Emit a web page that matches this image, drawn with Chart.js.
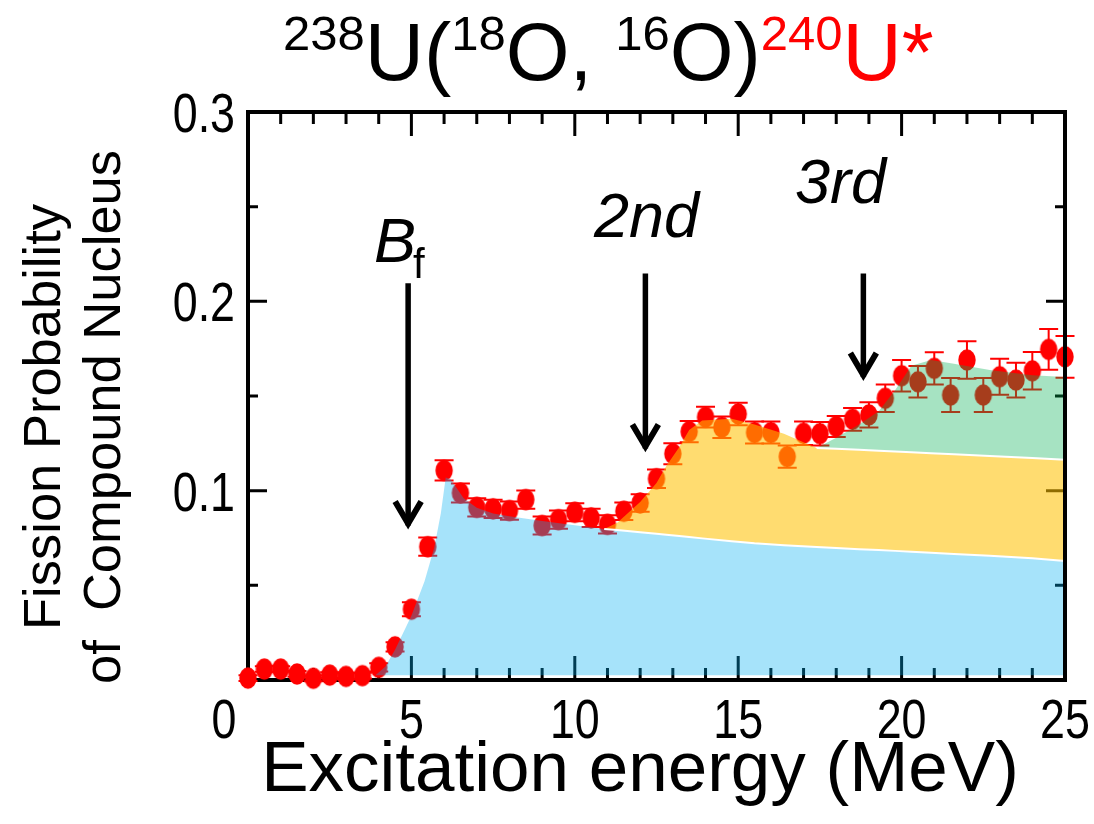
<!DOCTYPE html>
<html>
<head>
<meta charset="utf-8">
<script src="https://cdn.jsdelivr.net/npm/chart.js@4.4.1/dist/chart.umd.min.js"></script>
<style>
html,body{margin:0;padding:0;background:#ffffff;}
#wrap{width:1094px;height:824px;position:relative;}
</style>
</head>
<body>
<div id="wrap"><canvas id="c"></canvas></div>
<script>
// ---------------- data ----------------
const energy = [0,0.5,1,1.5,2,2.5,3,3.5,4,4.5,5,5.5,6,6.5,7,7.5,8,8.5,9,9.5,10,10.5,11,11.5,12,12.5,13,13.5,14,14.5,15,15.5,16,16.5,17,17.5,18,18.5,19,19.5,20,20.5,21,21.5,22,22.5,23,23.5,24,24.5,25];
const fissionProb = [0.001,0.0058,0.0058,0.0032,0.0009,0.0026,0.0019,0.0023,0.0067,0.0175,0.0374,0.0704,0.1107,0.0988,0.0912,0.0904,0.0895,0.0953,0.0816,0.0847,0.0886,0.0856,0.0822,0.0891,0.0935,0.1063,0.1195,0.1312,0.1388,0.1335,0.1405,0.1307,0.1307,0.118,0.1303,0.1301,0.1339,0.1377,0.140,0.1488,0.1607,0.1575,0.1646,0.1505,0.169,0.1505,0.1602,0.1584,0.1633,0.1746,0.1707];
const fissionErr = [0.0015,0.0015,0.0015,0.0015,0.0015,0.0015,0.0015,0.0015,0.0022,0.0025,0.0037,0.0048,0.0053,0.005,0.0048,0.0048,0.0048,0.0048,0.0048,0.0048,0.0048,0.0048,0.0048,0.0046,0.0046,0.0049,0.0055,0.0056,0.0055,0.0057,0.006,0.0058,0.0058,0.0059,0.0062,0.0062,0.0055,0.006,0.0067,0.0073,0.0083,0.0083,0.0085,0.009,0.0099,0.009,0.0095,0.0092,0.0099,0.0108,0.011];

// shaded contributions (1st, 2nd, 3rd chance fission)
const bandX     = [3.9,4.2,4.5,5.0,5.4,5.7,5.9,6.05,6.2,6.6,7.0,7.5,8.0,9.0,10.0,10.9,11.3,12.0,12.5,12.8,13.2,13.5,13.9,14.8,15.5,16.4,17.4,18.0,18.7,19.3,19.8,20.3,20.9,21.6,22.7,24.0,25.0];
const blueTop   = [0.0025,0.007,0.016,0.034,0.052,0.070,0.088,0.107,0.106,0.096,0.091,0.088,0.0865,0.084,0.0818,0.0798,0.0792,0.078,0.0772,0.0767,0.076,0.0755,0.0748,0.0733,0.0722,0.0712,0.0702,0.0697,0.0691,0.0686,0.0682,0.0677,0.0672,0.0666,0.0656,0.0643,0.0628];
const orangeTop = [0.0025,0.007,0.016,0.034,0.052,0.070,0.088,0.107,0.106,0.096,0.091,0.088,0.0865,0.084,0.0818,0.0798,0.083,0.094,0.104,0.113,0.123,0.132,0.137,0.138,0.135,0.130,0.1225,0.1222,0.1216,0.1211,0.1207,0.1203,0.1198,0.1192,0.1183,0.1172,0.1163];
const greenTop  = [0.0025,0.007,0.016,0.034,0.052,0.070,0.088,0.107,0.106,0.096,0.091,0.088,0.0865,0.084,0.0818,0.0798,0.083,0.094,0.104,0.113,0.123,0.132,0.137,0.138,0.135,0.130,0.1225,0.128,0.135,0.142,0.153,0.166,0.169,0.167,0.1637,0.161,0.160];

const xTickValues = [0,5,10,15,20,25];
const yTickValues = [0.1,0.2,0.3];

// annotation arrows (in data units)
const arrowX   = [4.9, 12.16, 18.83];
const arrowTop = [0.2095, 0.2147, 0.2147];
const arrowTip = [0.080, 0.1207, 0.1584];

// ---------------- styles ----------------
const FONT = '"Liberation Sans", Arial, Helvetica, sans-serif';
const RED = '#ff0000';

function ellipseMarker() {
  const c = document.createElement('canvas');
  c.width = 20; c.height = 24;
  const g = c.getContext('2d');
  g.fillStyle = RED;
  g.beginPath();
  g.ellipse(10, 12, 8.7, 10.7, 0, 0, Math.PI * 2);
  g.fill();
  return c;
}

const band = (arr) => bandX.map((x, i) => ({x: x, y: arr[i]}));
const bandFrom = (arr, x0) => bandX.map((x, i) => ({x: x, y: arr[i]})).filter(p => p.x >= x0);

// ---------------- plugins ----------------
const errorBars = {
  id: 'errorBars',
  beforeDatasetDraw(chart, args) {
    if (args.index !== 0) return;
    const {ctx, scales: {x, y}} = chart;
    ctx.save();
    ctx.strokeStyle = RED;
    ctx.lineWidth = 2;
    energy.forEach((e, i) => {
      const px = x.getPixelForValue(e);
      const hi = y.getPixelForValue(fissionProb[i] + fissionErr[i]);
      const lo = y.getPixelForValue(fissionProb[i] - fissionErr[i]);
      ctx.beginPath();
      ctx.moveTo(px, hi); ctx.lineTo(px, lo);
      ctx.moveTo(px - 9.5, hi); ctx.lineTo(px + 9.5, hi);
      ctx.moveTo(px - 9.5, lo); ctx.lineTo(px + 9.5, lo);
      ctx.stroke();
    });
    ctx.restore();
  }
};

function tickSet(scale, from, to, step) {
  const out = [];
  for (let k = 0; from + k * step <= to + 1e-9; k++) out.push(from + k * step);
  return out;
}

const frame = {
  id: 'frame',
  beforeDatasetsDraw(chart) {
    const {ctx, chartArea: a, scales: {x, y}} = chart;
    ctx.save();
    ctx.strokeStyle = '#000';
    ctx.lineWidth = 3;
    ctx.beginPath();
    tickSet(x, 1, 24, 1).forEach(v => {
      const px = x.getPixelForValue(v);
      const len = (Math.round(v) % 5 === 0) ? 24 : 12;
      ctx.moveTo(px, a.bottom); ctx.lineTo(px, a.bottom - len);
      ctx.moveTo(px, a.top); ctx.lineTo(px, a.top + len);
    });
    tickSet(y, 0.05, 0.25, 0.05).forEach(v => {
      const py = y.getPixelForValue(v);
      const major = Math.abs(v * 10 - Math.round(v * 10)) < 1e-6;
      const len = major ? 19 : 10;
      ctx.moveTo(a.left, py); ctx.lineTo(a.left + len, py);
      ctx.moveTo(a.right, py); ctx.lineTo(a.right - len, py);
    });
    ctx.stroke();
    ctx.lineWidth = 4;
    ctx.strokeRect(a.left, a.top, a.right - a.left, a.bottom - a.top);
    ctx.restore();
  },
  afterDatasetsDraw(chart) {
    const {ctx, chartArea: a, scales: {x, y}} = chart;
    ctx.save();
    // right border on top
    ctx.strokeStyle = '#000';
    ctx.lineWidth = 4;
    ctx.beginPath();
    ctx.moveTo(a.right, a.top - 2); ctx.lineTo(a.right, a.bottom + 2);
    ctx.stroke();

    // arrows
    ctx.lineCap = 'butt';
    arrowX.forEach((v, i) => {
      const px = x.getPixelForValue(v);
      const top = y.getPixelForValue(arrowTop[i]);
      const tip = y.getPixelForValue(arrowTip[i]);
      ctx.lineWidth = 5.5;
      ctx.beginPath();
      ctx.moveTo(px, top); ctx.lineTo(px, tip - 3);
      ctx.stroke();
      ctx.lineWidth = 6;
      ctx.lineJoin = 'miter';
      ctx.beginPath();
      ctx.moveTo(px - 13, tip - 27); ctx.lineTo(px, tip - 5); ctx.lineTo(px + 13, tip - 27);
      ctx.stroke();
    });

    // arrow labels
    ctx.fillStyle = '#000';
    ctx.textAlign = 'left';
    ctx.textBaseline = 'alphabetic';
    ctx.font = 'italic 63px ' + FONT;
    ctx.fillText('B', 374, 262);
    ctx.font = '42px ' + FONT;
    ctx.fillText('f', 413, 278);
    ctx.font = 'italic 63px ' + FONT;
    ctx.fillText('2nd', 594, 237);
    ctx.fillText('3rd', 795, 203);

    // tick labels (condensed like the original)
    ctx.font = '56px ' + FONT;
    x.ticks.forEach(t => {
      const px = x.getPixelForValue(t.value) + (t.value === 0 ? -24 : 0);
      ctx.save();
      ctx.translate(px, 738);
      ctx.scale(0.8, 1);
      ctx.textAlign = 'center';
      ctx.fillText(String(t.value), 0, 0);
      ctx.restore();
    });
    y.ticks.forEach(t => {
      const py = y.getPixelForValue(t.value);
      ctx.save();
      ctx.translate(235, py + 20);
      ctx.scale(0.8, 1);
      ctx.textAlign = 'right';
      ctx.fillText(t.value.toFixed(1), 0, 0);
      ctx.restore();
    });

    // x title
    ctx.textAlign = 'center';
    ctx.font = '71px ' + FONT;
    ctx.fillText('Excitation energy (MeV)', 640, 791);

    // y title (two lines, rotated)
    ctx.font = '52.5px ' + FONT;
    ['Fission Probability', 'of  Compound Nucleus'].forEach((line, i) => {
      ctx.save();
      ctx.translate(i === 0 ? 60 : 120, 417);
      ctx.rotate(-Math.PI / 2);
      ctx.textAlign = 'center';
      ctx.fillText(line, 0, 0);
      ctx.restore();
    });

    // main title with superscripts
    const segs = [
      {t: '238', sup: true, c: '#000'}, {t: 'U(', c: '#000'},
      {t: '18', sup: true, c: '#000'}, {t: 'O, ', c: '#000'},
      {t: '16', sup: true, c: '#000'}, {t: 'O)', c: '#000'},
      {t: '240', sup: true, c: RED}, {t: 'U*', c: RED}
    ];
    let cx = 283;
    ctx.textAlign = 'left';
    segs.forEach(s => {
      ctx.font = (s.sup ? '49px ' : '82px ') + FONT;
      ctx.fillStyle = s.c;
      ctx.fillText(s.t, cx, s.sup ? 50 : 80);
      cx += ctx.measureText(s.t).width;
    });
    ctx.restore();
  }
};

// ---------------- chart ----------------
const ctxEl = document.getElementById('c');
new Chart(ctxEl, {
  data: {
    datasets: [
      {
        type: 'scatter',
        data: energy.map((e, i) => ({x: e, y: fissionProb[i]})),
        pointStyle: ellipseMarker(),
        pointRadius: 10,
        showLine: false,
        clip: false,
        order: 6
      },
      {
        type: 'line',
        data: band(blueTop),
        borderColor: 'rgba(0,0,0,0)',
        backgroundColor: 'rgba(0,176,240,0.35)',
        fill: {value: 0.0025},
        pointRadius: 0, tension: 0,
        order: 5
      },
      {
        type: 'line',
        data: band(orangeTop),
        borderColor: 'rgba(0,0,0,0)',
        backgroundColor: 'rgba(255,192,0,0.56)',
        fill: 1,
        pointRadius: 0, tension: 0,
        order: 4
      },
      {
        type: 'line',
        data: band(greenTop),
        borderColor: 'rgba(0,0,0,0)',
        backgroundColor: 'rgba(0,176,80,0.35)',
        fill: 2,
        pointRadius: 0, tension: 0,
        order: 3
      },
      {
        type: 'line',
        data: bandFrom(blueTop, 10.9),
        borderColor: '#ffffff', borderWidth: 2,
        fill: false, pointRadius: 0, tension: 0,
        order: 2
      },
      {
        type: 'line',
        data: bandFrom(orangeTop, 17.4),
        borderColor: '#ffffff', borderWidth: 2,
        fill: false, pointRadius: 0, tension: 0,
        order: 1
      }
    ]
  },
  options: {
    responsive: true,
    maintainAspectRatio: false,
    devicePixelRatio: 1,
    animation: false,
    events: [],
    layout: {autoPadding: false, padding: {left: 248, right: 29, top: 112, bottom: 144}},
    plugins: {legend: {display: false}, tooltip: {enabled: false}, title: {display: false}},
    scales: {
      x: {
        type: 'linear', min: 0, max: 25,
        grid: {display: false, drawTicks: false},
        border: {display: false},
        ticks: {display: false},
        afterBuildTicks: (s) => { s.ticks = xTickValues.map(v => ({value: v})); },
        afterFit: (s) => { s.height = 0; }
      },
      y: {
        type: 'linear', min: 0, max: 0.3,
        grid: {display: false, drawTicks: false},
        border: {display: false},
        ticks: {display: false},
        afterBuildTicks: (s) => { s.ticks = yTickValues.map(v => ({value: v})); },
        afterFit: (s) => { s.width = 0; }
      }
    }
  },
  plugins: [errorBars, frame]
});
</script>
</body>
</html>
